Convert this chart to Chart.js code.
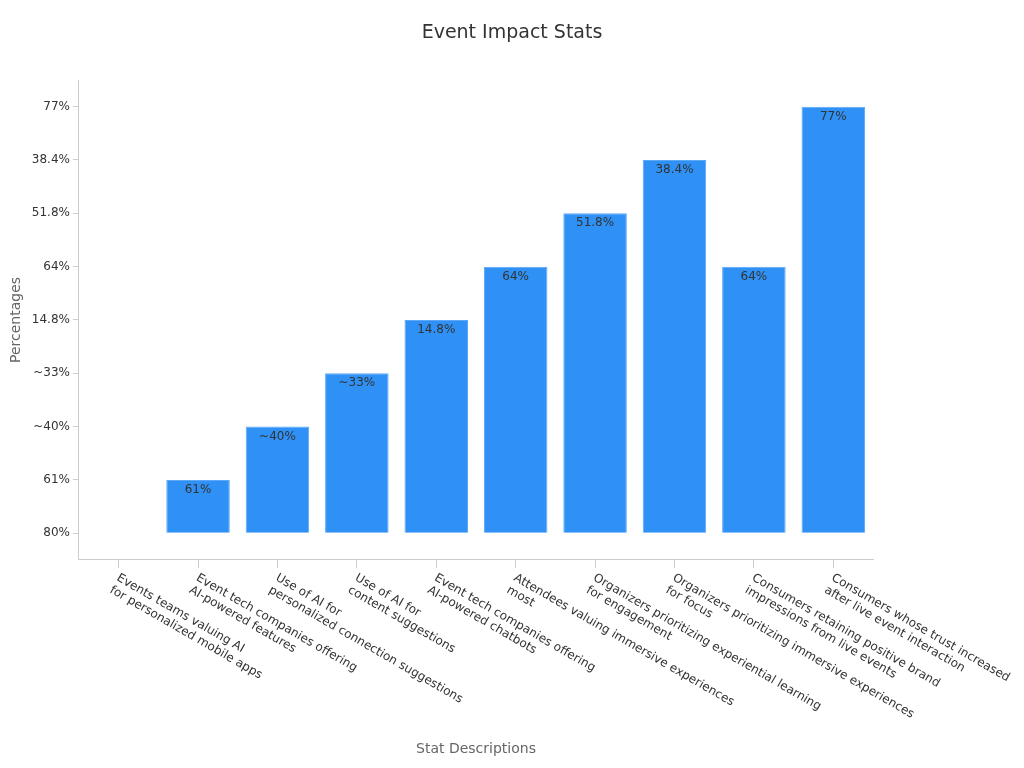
<!DOCTYPE html>
<html><head><meta charset="utf-8">
<script src="https://cdn.jsdelivr.net/npm/chart.js@4"></script>
<style>html,body{margin:0;background:#fff}#w{width:1024px;height:768px}</style>
</head><body><div id="w"><canvas id="c"></canvas></div>
<script>
const categories = [
  ["Events teams valuing AI","for personalized mobile apps"],
  ["Event tech companies offering","AI-powered features"],
  ["Use of AI for","personalized connection suggestions"],
  ["Use of AI for","content suggestions"],
  ["Event tech companies offering","AI-powered chatbots"],
  ["Attendees valuing immersive experiences","most"],
  ["Organizers prioritizing experiential learning","for engagement"],
  ["Organizers prioritizing immersive experiences","for focus"],
  ["Consumers retaining positive brand","impressions from live events"],
  ["Consumers whose trust increased","after live event interaction"]
];
const yTickLabels = ["80%","61%","~40%","~33%","14.8%","64%","51.8%","38.4%","77%"];
const values = ["80%","61%","~40%","~33%","14.8%","64%","51.8%","38.4%","64%","77%"];

const FONT = "'DejaVu Sans', sans-serif";
const plug = {
  id:'custom',
  afterDatasetsDraw(chart){
    const ctx = chart.ctx, meta = chart.getDatasetMeta(0);
    ctx.save();
    ctx.font = "19px " + FONT; ctx.fillStyle='#333'; ctx.textAlign='center'; ctx.textBaseline='middle';
    ctx.fillText('Event Impact Stats', 512, 33);
    ctx.font = "12px " + FONT; ctx.fillStyle = '#333'; ctx.textAlign='center'; ctx.textBaseline='top';
    meta.data.forEach((b,i)=>{ if(i===0) return; ctx.fillText(values[i], b.x, b.y+4); });
    const xs = chart.scales.x, top = xs.top + 12;
    ctx.textAlign='left'; ctx.textBaseline='top';
    categories.forEach((lines,i)=>{
      const x = xs.getPixelForTick(i);
      ctx.save(); ctx.translate(x+2, top); ctx.rotate(Math.PI/6);
      lines.forEach((l,j)=>{ ctx.fillText(l, 0, j*14); });
      ctx.restore();
    });
    ctx.restore();
  }
};
new Chart(document.getElementById('c'), {
  type:'bar',
  data:{ labels: categories, datasets:[{ data: values, backgroundColor:'#2f91f5', borderColor:'#5aa8f7', borderWidth:1, barPercentage:0.8, categoryPercentage:1 }]},
  options:{
    responsive:true, maintainAspectRatio:false, animation:false,
    layout:{padding:{left:4,right:151,top:80,bottom:0}},
    plugins:{ legend:{display:false}, tooltip:{enabled:false}, title:{display:false} },
    scales:{
      x:{ type:'category', offset:true,
        afterFit(s){ s.paddingLeft=0; s.paddingRight=0; },
        grid:{drawOnChartArea:false, offset:false, color:'#ccc', tickLength:8}, border:{color:'#ccc'},
        ticks:{color:'rgba(0,0,0,0)', minRotation:30, maxRotation:30, font:{family:FONT,size:12}},
        title:{display:true, text:'Stat Descriptions', color:'#666', font:{family:FONT,size:14}, padding:{top:4,bottom:10}} },
      y:{ type:'category', labels: yTickLabels, reverse:true, offset:true,
        grid:{drawOnChartArea:false, offset:false, color:'#ccc', tickLength:6}, border:{color:'#ccc'},
        ticks:{color:'#333', font:{family:FONT,size:12}},
        title:{display:true, text:'Percentages', color:'#666', font:{family:FONT,size:14}} }
    }
  },
  plugins:[plug]
});
</script></body></html>
